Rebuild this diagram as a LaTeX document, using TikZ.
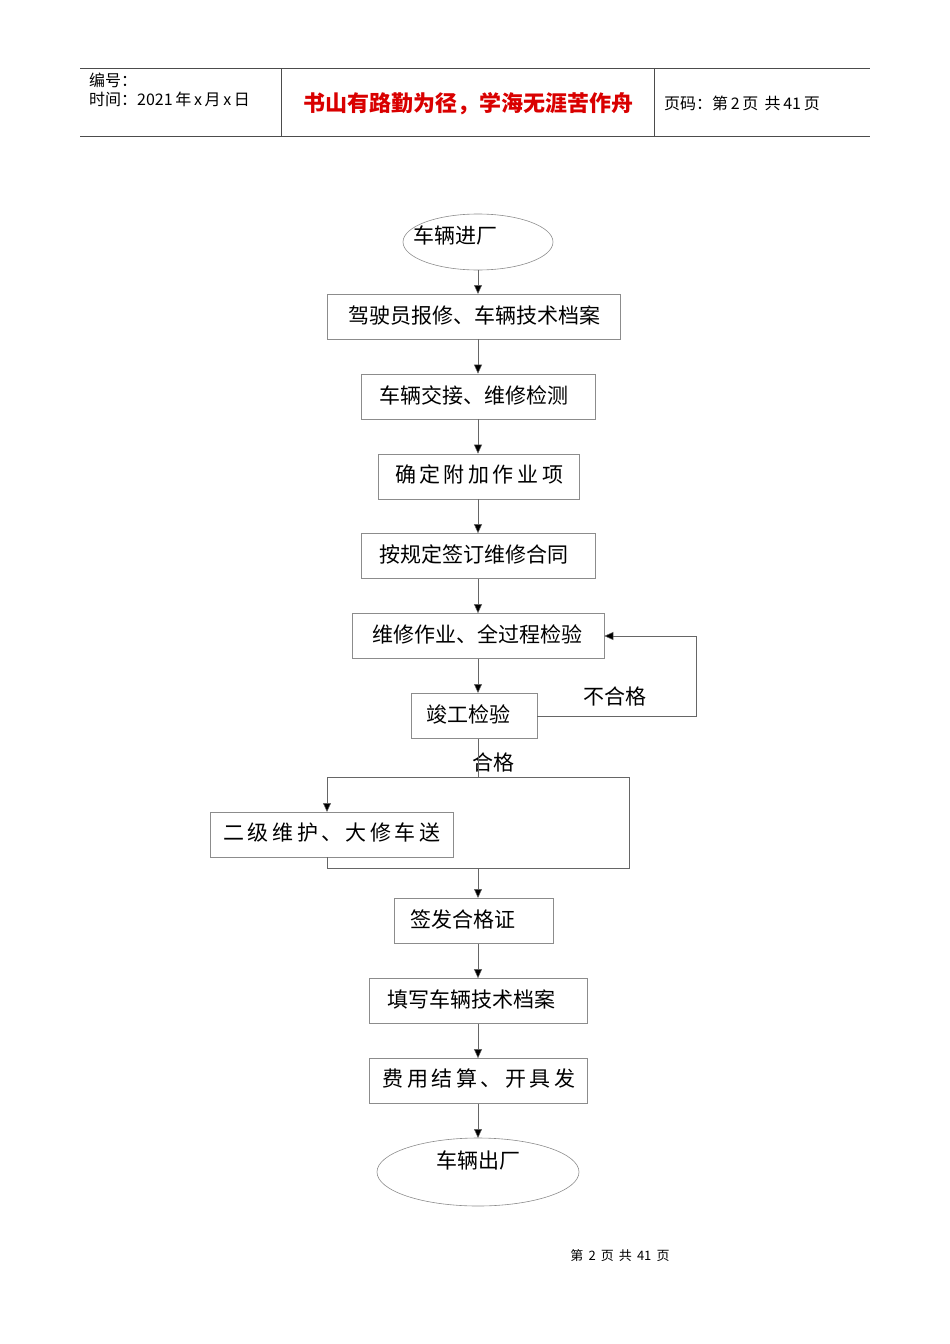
\documentclass[tikz,border=0pt]{standalone}
\usepackage{fontspec}
\setmainfont{Liberation Sans}
\newfontfamily\cjk{Noto Sans CJK SC}
\usetikzlibrary{shapes.geometric,arrows.meta}
\begin{document}
\begin{tikzpicture}[x=1pt,y=-1pt,
  bx/.style={draw=black!45,line width=0.6pt,minimum height=45pt,inner sep=0pt},
  ov/.style={ellipse,draw=black!45,line width=0.6pt,inner sep=0pt},
  tx/.style={font=\cjk\fontsize{21}{21}\selectfont,inner sep=0pt},
  ar/.style={-{Triangle[length=9pt,width=8pt]},line width=0.5pt,draw=black!60,arrows={[fill=black]}},
  ln/.style={line width=0.5pt,draw=black!60}]
\useasboundingbox (0,0) rectangle (950,1344);
% header
\draw[line width=0.8pt,black!70] (80,68) -- (870,68) (80,136) -- (870,136) (281,68) -- (281,136) (654,68) -- (654,136);
\node[anchor=west,font=\cjk\fontsize{16}{16}\selectfont,inner sep=0pt] (h1) at (89,80) {编号：};
\node[anchor=west,font=\cjk\fontsize{16}{16}\selectfont,inner sep=0pt] (h2) at (89,99) {时间：2021\,年\,x\,月\,x\,日};
\node[font=\cjk\bfseries\fontsize{22}{22}\selectfont,text=red!85!black,inner sep=0pt] (h3) at (468,104) {书山有路勤为径，学海无涯苦作舟};
\node[anchor=west,font=\cjk\fontsize{16}{16}\selectfont,inner sep=0pt] (h4) at (664,103) {页码：第\,2\,页\ \,共\,41\,页};
% nodes
\node[ov,minimum width=150pt,minimum height=56pt] (s) at (478,242) {};
\node[tx] at (455,235) {车辆进厂};
\node[bx,minimum width=293pt] (b1) at (473.5,316.5) {};
\node[tx] at (474,315) {驾驶员报修、车辆技术档案};
\node[bx,minimum width=234pt] (b2) at (478,396.5) {};
\node[tx] at (474,395) {车辆交接、维修检测};
\node[bx,minimum width=201pt] (b3) at (478.5,476.5) {};
\node[tx] at (479,474) {确\,定\,附\,加\,作\,业\,项};
\node[bx,minimum width=234pt] (b4) at (478,556) {};
\node[tx] at (474,554) {按规定签订维修合同};
\node[bx,minimum width=252pt] (b5) at (478,636) {};
\node[tx] at (477,634) {维修作业、全过程检验};
\node[bx,minimum width=126pt] (b6) at (474,716) {};
\node[tx] at (468,714) {竣工检验};
\node[bx,minimum width=243pt] (b7) at (331.5,834.5) {};
\node[tx] at (332,832) {二\,级\,维\,护\,、\,大\,修\,车\,送};
\node[bx,minimum width=159pt] (b8) at (473.5,921) {};
\node[tx] at (463,919) {签发合格证};
\node[bx,minimum width=218pt] (b9) at (478,1001) {};
\node[tx] at (471,999) {填写车辆技术档案};
\node[bx,minimum width=218pt] (b10) at (478,1081) {};
\node[tx] at (479,1079) {费\,用\,结\,算\,、\,开\,具\,发};
\node[ov,minimum width=202pt,minimum height=68pt] (e) at (478,1172) {};
\node[tx] at (478,1160) {车辆出厂};
\node[tx,font=\cjk\fontsize{21}{21}\selectfont] (ng) at (615,696) {不合格};
\node[tx,font=\cjk\fontsize{21}{21}\selectfont] (ok) at (493,762) {合格};
\coordinate (t1) at (478,777);
\coordinate (t2) at (478,868);
% connectors
\draw[ar] (478,270) -- (478,294);
\draw[ar] (478,339) -- (b2.north);
\draw[ar] (b2.south) -- (b3.north -| b2);
\draw[ar] (b3.south -| b2) -- (b4.north);
\draw[ar] (b4.south) -- (b5.north);
\draw[ar] (b5.south) -- (478,693);
\draw[ar] (b6.east) -- (696,716) -- (696,636) -- (b5.east);
\draw[ln] (478,739) -- (t1);
\draw[ar] (t1) -- (327,777) -- (327,812);
\draw[ln] (t1) -- (629,777) -- (629,868) -- (327,868) -- (327,857);
\draw[ar] (t2) -- (478,898);
\draw[ar] (478,944) -- (b9.north);
\draw[ar] (b9.south) -- (b10.north);
\draw[ar] (b10.south) -- (478,1138);
% footer
\node[font=\cjk\fontsize{13}{13}\selectfont,inner sep=0pt] (ft) at (620,1256) {第\ \,2\ \,页\ \,共\ \,41\ \,页};
\end{tikzpicture}
\end{document}
